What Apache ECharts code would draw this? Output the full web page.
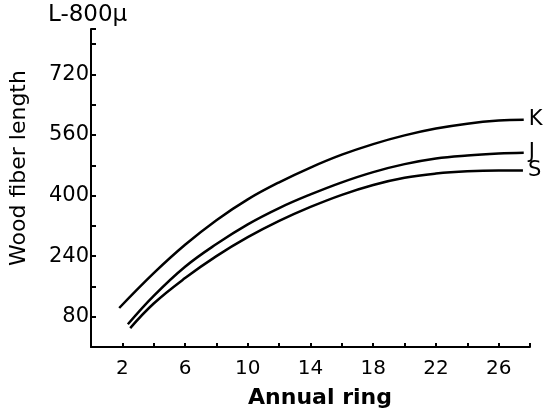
<!DOCTYPE html>
<html>
<head>
<meta charset="utf-8">
<script src="https://cdn.jsdelivr.net/npm/echarts@6/dist/echarts.min.js"></script>
<style>
  html, body { margin: 0; padding: 0; background: #fff; }
  #chart { width: 543px; height: 414px; }
</style>
</head>
<body>
<div id="chart"></div>
<script>
// annual ring positions and fiber length (µ) per curve
const ringsK = [1.8, 4, 6, 8, 10, 12, 14, 16, 18, 20, 22, 24, 26, 27.6]
const lenK   = [103, 195, 270, 335, 390, 435, 474, 508, 536, 559, 577, 590, 598, 600]
const ringsJ = [2.35, 4, 6, 8, 10, 12, 14, 16, 18, 20, 22, 24, 26, 27.6]
const lenJ   = [60, 135, 212, 272, 324, 367, 403, 435, 462, 483, 498, 506, 511, 513]
const ringsS = [2.5, 4, 6, 8, 10, 12, 14, 16, 18, 20, 22, 24, 26, 27.55]
const lenS   = [50, 115, 182, 240, 290, 333, 370, 402, 428, 447, 458, 464, 466, 466]
const xLabels = [2, 6, 10, 14, 18, 22, 26]
const yLabels = [80, 240, 400, 560, 720]

const font = 'DejaVu Sans'
const zip = (xs, ys) => xs.map((x, i) => [x, ys[i]])

const curve = (name, xs, ys) => ({
  name, type: 'line', smooth: 0.4, symbol: 'none',
  data: zip(xs, ys),
  lineStyle: { color: '#000', width: 2.5 },
  endLabel: { show: true, formatter: name, color: '#000', fontFamily: font, fontSize: 21, distance: 5 },
})

const chart = echarts.init(document.getElementById('chart'))
chart.setOption({
  animation: false,
  grid: { left: 91, right: 13, top: 29, bottom: 67 },
  xAxis: {
    type: 'value', min: 0, max: 28, interval: 2,
    axisLine: { lineStyle: { color: '#000', width: 2 } },
    axisTick: { inside: true, length: 4, lineStyle: { color: '#000', width: 2 } },
    axisLabel: { color: '#000', fontFamily: font, fontSize: 20, margin: 12,
      formatter: v => xLabels.includes(v) ? String(v) : '' },
    splitLine: { show: false },
  },
  yAxis: {
    type: 'value', min: 0, max: 840, interval: 80,
    axisLine: { show: true, lineStyle: { color: '#000', width: 2 } },
    axisTick: { show: true, inside: true, length: 5, lineStyle: { color: '#000', width: 2 } },
    axisLabel: { color: '#000', fontFamily: font, fontSize: 21, margin: 2,
      formatter: v => yLabels.includes(v) ? String(v) : '' },
    splitLine: { show: false },
  },
  graphic: [
    { type: 'text', left: 48, top: 4,
      style: { text: 'L-800µ', fill: '#000', font: '23px "DejaVu Sans"' } },
    { type: 'text', x: 8, y: 168, rotation: Math.PI / 2,
      style: { text: 'Wood fiber length', fill: '#000', font: '22px "DejaVu Sans"', align: 'center', verticalAlign: 'top' } },
    { type: 'text', x: 320, y: 398,
      style: { text: 'Annual ring', fill: '#000', font: 'bold 22px "DejaVu Sans"', align: 'center', verticalAlign: 'middle' } },
  ],
  series: [curve('K', ringsK, lenK), curve('J', ringsJ, lenJ), curve('S', ringsS, lenS)],
})
</script>
</body>
</html>
